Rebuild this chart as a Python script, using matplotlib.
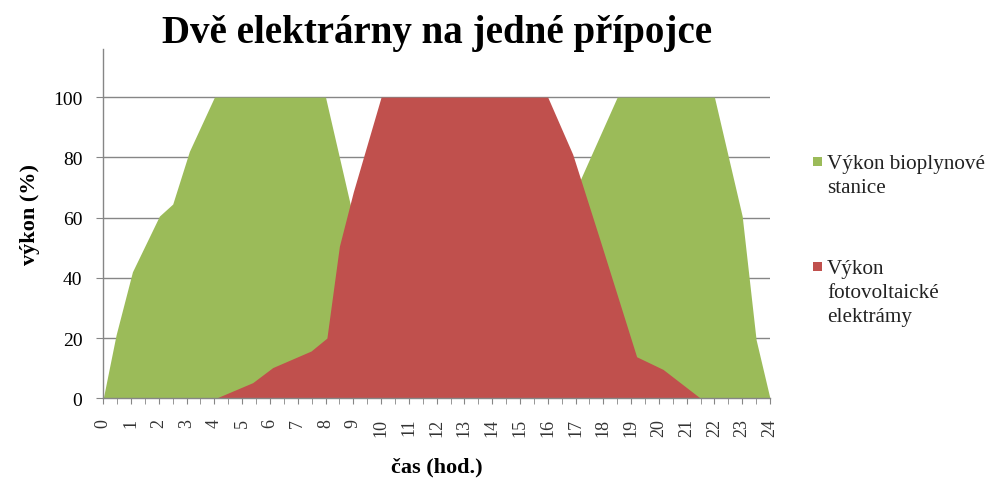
import matplotlib
matplotlib.use("Agg")
import matplotlib.pyplot as plt
from matplotlib.patches import Rectangle
import numpy as np

# biogas station output (%), read at the knees of the outline
bio_hours = [0, 0.46, 1.05, 2.02, 2.5, 3.1, 4.0, 8.0, 9.0, 9.5, 16.5, 17.0, 18.5, 22.0, 23.0, 23.5, 24]
bio_power = [0, 21, 42, 60.5, 64.5, 82, 100, 100, 60, 0, 0, 69, 100, 100, 60.5, 19.5, 0]

# photovoltaic plant output (%)
pv_hours = [4.05, 5.38, 6.1, 7.48, 8.05, 8.5, 9.0, 10.0, 16.0, 16.9, 17.9, 19.2, 20.15, 21.5]
pv_power = [0, 5.2, 10.2, 15.7, 20, 50.5, 68.5, 100, 100, 81, 52, 13.8, 9.6, 0]

labels = ["Výkon bioplynové\nstanice", "Výkon\nfotovoltaické\nelektrámy"]
colours = {"bio": "#9BBB59", "pv": "#C0504D", "grid": "#868686"}

serif = "Liberation Serif"

fig = plt.figure(figsize=(9.93, 4.85), dpi=100)
ax = fig.add_axes([0.104, 0.1767, 0.6714, 0.7203])

ax.fill_between(bio_hours, bio_power, 0, color=colours["bio"], lw=0, zorder=2)
ax.fill_between(pv_hours, pv_power, 0, color=colours["pv"], lw=0, zorder=3)

ax.set_xlim(0, 24)
ax.set_ylim(0, 116)

ax.set_yticks(np.arange(0, 101, 20))
ax.set_xticks(np.arange(0, 25, 1))
ax.set_xticks(np.arange(0.5, 24, 1), minor=True)
ax.set_xticklabels([str(h) for h in range(25)], rotation=90, va="top", ha="center",
                   family=serif, fontsize=13, color="#333333")
ax.set_yticklabels([str(v) for v in range(0, 101, 20)], family=serif, fontsize=14)

for y in range(20, 101, 20):
    ax.axhline(y, color=colours["grid"], lw=1, zorder=1)

for s in ["top", "right"]:
    ax.spines[s].set_visible(False)
for s in ["left", "bottom"]:
    ax.spines[s].set_color(colours["grid"])
    ax.spines[s].set_linewidth(1)
    ax.spines[s].set_zorder(4)

ax.tick_params(axis="y", length=5, color=colours["grid"], pad=10)
ax.tick_params(axis="x", which="both", length=4, color=colours["grid"], pad=10)

fig.text(0.44, 1 - 33 / 485, "Dvě elektrárny na jedné přípojce", family=serif,
         fontweight="bold", fontsize=28, ha="center", va="center")
fig.text(30 / 993, 1 - 215 / 485, "výkon (%)", family=serif, fontweight="bold",
         fontsize=16, rotation=90, ha="center", va="center")
fig.text(437 / 993, 1 - 467 / 485, "čas (hod.)", family=serif, fontweight="bold",
         fontsize=16, ha="center", va="center")

# legend drawn by hand to match the spacing of the original
legend_y = [162, 267]
for lab, col, y in zip(labels, [colours["bio"], colours["pv"]], legend_y):
    fig.add_artist(Rectangle((813 / 993, 1 - (y + 4.5) / 485), 9 / 993, 9 / 485,
                             transform=fig.transFigure, color=col, lw=0))
    fig.text(827 / 993, 1 - (y - 7) / 485, lab, family=serif, fontsize=15.2,
             ha="left", va="top", color="#222222", linespacing=1.35)

plt.savefig("out.png", dpi=100)
